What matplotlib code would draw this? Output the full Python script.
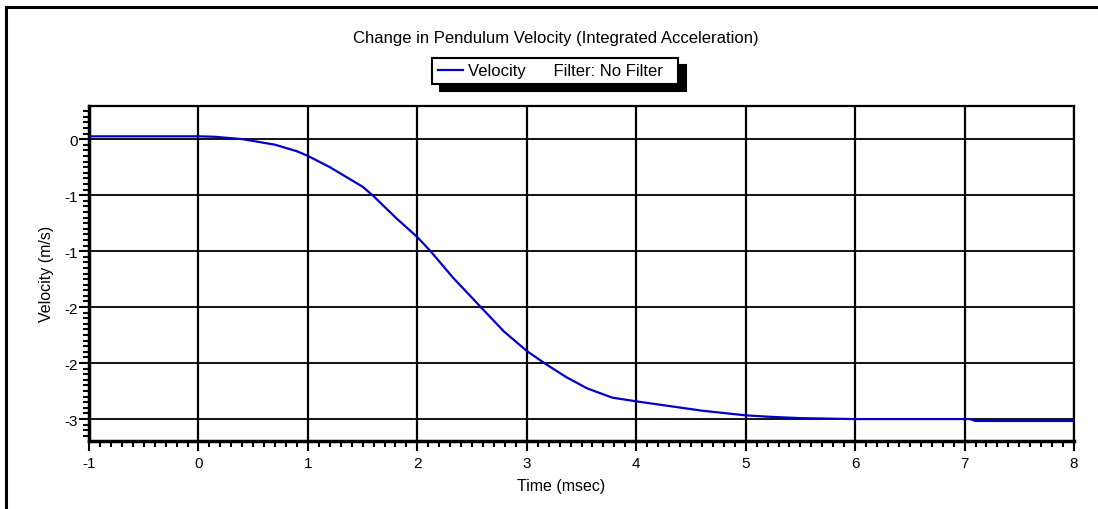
import matplotlib.pyplot as plt
from matplotlib.lines import Line2D
from matplotlib.ticker import MultipleLocator

plt.rcParams['font.family'] = ['Liberation Sans', 'DejaVu Sans']

# Velocity trace
time_ms = [-1.0, 0.0, 0.15, 0.4, 0.55, 0.7, 0.9, 1.0, 1.2, 1.5, 1.59, 1.81, 2.0, 2.12,
           2.33, 2.58, 2.79, 3.0, 3.16, 3.36, 3.55, 3.78, 4.0, 4.3, 4.6, 5.0, 5.21,
           5.5, 6.0, 7.05, 7.1, 8.0]
velocity = [0.03, 0.03, 0.025, 0.0, -0.03, -0.06, -0.13, -0.18, -0.3, -0.51, -0.6, -0.85,
            -1.05, -1.2, -1.49, -1.8, -2.06, -2.27, -2.40, -2.55, -2.67, -2.77, -2.81,
            -2.86, -2.91, -2.96, -2.975, -2.99, -3.0, -3.0, -3.02, -3.02]

y_ticks = [0.0, -0.6, -1.2, -1.8, -2.4, -3.0]
y_tick_labels = ['0', '-1', '-1', '-2', '-2', '-3']
x_ticks = [-1, 0, 1, 2, 3, 4, 5, 6, 7, 8]

fig = plt.figure(figsize=(10.98, 5.10), dpi=100)
ax = fig.add_axes([89 / 1098, 1 - 442 / 510, (1074 - 89) / 1098, (442 - 107) / 510])

line, = ax.plot(time_ms, velocity, color='#0000c8', linewidth=1.6,
                label='Velocity      Filter: No Filter  ', zorder=3)

ax.set_xlim(-1, 8)
ax.set_ylim(-3.235, 0.355)
ax.set_xticks(x_ticks)
ax.set_xticklabels([str(v) for v in x_ticks])
ax.set_yticks(y_ticks)
ax.set_yticklabels(y_tick_labels)
ax.xaxis.set_minor_locator(MultipleLocator(0.1))
ax.yaxis.set_minor_locator(MultipleLocator(0.06))

ax.grid(True, which='major', axis='x', color='black', linewidth=1.6)
ax.grid(True, which='major', axis='y', color='black', linewidth=1.3)

ax.tick_params(axis='both', which='major', direction='out', length=7, width=1.5,
               labelsize=11, color='black')
ax.tick_params(axis='both', which='minor', direction='out', length=4, width=1.5)
ax.tick_params(axis='y', which='major', pad=1)

for side in ['left', 'bottom']:
    ax.spines[side].set_linewidth(2.5)
for side in ['top', 'right']:
    ax.spines[side].set_linewidth(1.6)

fig.text(556 / 1098, 1 - 38 / 510, 'Change in Pendulum Velocity (Integrated Acceleration)',
         ha='center', va='center', fontsize=12)
fig.text(561 / 1098, 1 - 487 / 510, 'Time (msec)', ha='center', va='center', fontsize=11.5)
fig.text(47 / 1098, 1 - 274 / 510, 'Velocity (m/s)', ha='center', va='center',
         rotation=90, fontsize=11.5)

leg = fig.legend(handles=[line], loc='center', bbox_to_anchor=(555 / 1098, 1 - 72 / 510),
                 fontsize=12, frameon=True, fancybox=False, handlelength=1.5,
                 handletextpad=0.3, borderpad=0.35, borderaxespad=0,
                 shadow={'color': 'black', 'alpha': 1.0, 'ox': 6, 'oy': -5})
leg.get_frame().set_edgecolor('black')
leg.get_frame().set_linewidth(1.5)
leg.get_frame().set_alpha(1.0)

# outer frame (left and top edges visible)
fig.add_artist(Line2D([6 / 1098, 6 / 1098], [0, 1 - 8 / 510], color='black',
                      linewidth=2.2, transform=fig.transFigure))
fig.add_artist(Line2D([6 / 1098, 1], [1 - 8 / 510, 1 - 8 / 510], color='black',
                      linewidth=2.2, transform=fig.transFigure))

fig.savefig('out.png', dpi=100)
